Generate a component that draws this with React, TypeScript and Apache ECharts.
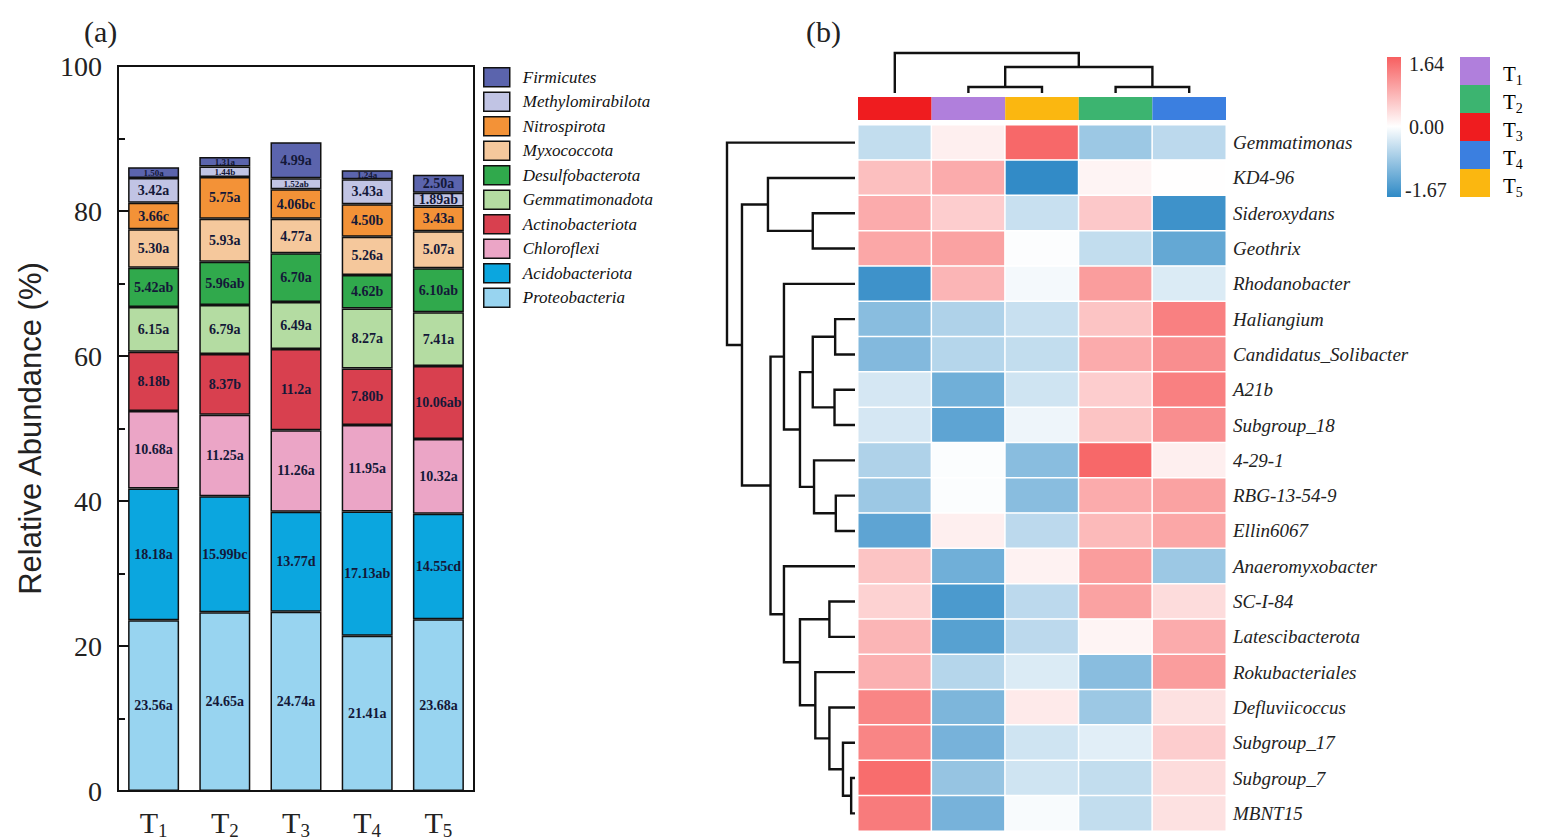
import React, { useEffect, useRef } from 'react';
import * as echarts from 'echarts';

const SERIF = "'Liberation Serif', 'Times New Roman', serif";
const SANS = "'Liberation Sans', Arial, sans-serif";

// ---------- (a) stacked bars ----------
const treatments = ['T1', 'T2', 'T3', 'T4', 'T5'];
const phyla = ['Proteobacteria', 'Acidobacteriota', 'Chloroflexi', 'Actinobacteriota', 'Gemmatimonadota', 'Desulfobacterota', 'Myxococcota', 'Nitrospirota', 'Methylomirabilota', 'Firmicutes'];
const phylaColors = ['#98d4f0', '#0ba6df', '#eba5c6', '#d8404f', '#b4dca2', '#30a94c', '#f5c89c', '#f39237', '#c1c4e4', '#5b64ad'];

const proteobacteria = [23.56, 24.65, 24.74, 21.41, 23.68];
const acidobacteriota = [18.18, 15.99, 13.77, 17.13, 14.55];
const chloroflexi = [10.68, 11.25, 11.26, 11.95, 10.32];
const actinobacteriota = [8.18, 8.37, 11.2, 7.80, 10.06];
const gemmatimonadota = [6.15, 6.79, 6.49, 8.27, 7.41];
const desulfobacterota = [5.42, 5.96, 6.70, 4.62, 6.10];
const myxococcota = [5.30, 5.93, 4.77, 5.26, 5.07];
const nitrospirota = [3.66, 5.75, 4.06, 4.50, 3.43];
const methylomirabilota = [3.42, 1.44, 1.52, 3.43, 1.89];
const firmicutes = [1.50, 1.31, 4.99, 1.24, 2.50];

const proteobacteriaLabels = ['23.56a', '24.65a', '24.74a', '21.41a', '23.68a'];
const acidobacteriotaLabels = ['18.18a', '15.99bc', '13.77d', '17.13ab', '14.55cd'];
const chloroflexiLabels = ['10.68a', '11.25a', '11.26a', '11.95a', '10.32a'];
const actinobacteriotaLabels = ['8.18b', '8.37b', '11.2a', '7.80b', '10.06ab'];
const gemmatimonadotaLabels = ['6.15a', '6.79a', '6.49a', '8.27a', '7.41a'];
const desulfobacterotaLabels = ['5.42ab', '5.96ab', '6.70a', '4.62b', '6.10ab'];
const myxococcotaLabels = ['5.30a', '5.93a', '4.77a', '5.26a', '5.07a'];
const nitrospirotaLabels = ['3.66c', '5.75a', '4.06bc', '4.50b', '3.43a'];
const methylomirabilotaLabels = ['3.42a', '1.44b', '1.52ab', '3.43a', '1.89ab'];
const firmicutesLabels = ['1.50a', '1.31a', '4.99a', '1.24a', '2.50a'];

const phylaValues = [proteobacteria, acidobacteriota, chloroflexi, actinobacteriota, gemmatimonadota, desulfobacterota, myxococcota, nitrospirota, methylomirabilota, firmicutes];
const phylaLabels = [proteobacteriaLabels, acidobacteriotaLabels, chloroflexiLabels, actinobacteriotaLabels, gemmatimonadotaLabels, desulfobacterotaLabels, myxococcotaLabels, nitrospirotaLabels, methylomirabilotaLabels, firmicutesLabels];

const yTicks = [0, 20, 40, 60, 80, 100];

// ---------- (b) heatmap ----------
const heatCols = ['T3', 'T1', 'T5', 'T2', 'T4'];
const heatRows = ['Gemmatimonas', 'KD4-96', 'Sideroxydans', 'Geothrix', 'Rhodanobacter', 'Haliangium', 'Candidatus_Solibacter', 'A21b', 'Subgroup_18', '4-29-1', 'RBG-13-54-9', 'Ellin6067', 'Anaeromyxobacter', 'SC-I-84', 'Latescibacterota', 'Rokubacteriales', 'Defluviicoccus', 'Subgroup_17', 'Subgroup_7', 'MBNT15'];
// columns: T3, T1, T5, T2, T4
const heatValues = [
  [-0.5, 0.15, 1.55, -0.8, -0.55],
  [0.65, 0.85, -1.65, 0.1, 0.0],
  [0.85, 0.5, -0.45, 0.55, -1.55],
  [0.9, 0.95, -0.04, -0.5, -1.25],
  [-1.55, 0.75, -0.1, 1.0, -0.3],
  [-0.95, -0.65, -0.45, 0.6, 1.3],
  [-1.0, -0.6, -0.5, 0.85, 1.15],
  [-0.35, -1.15, -0.4, 0.5, 1.3],
  [-0.35, -1.3, -0.15, 0.6, 1.15],
  [-0.65, -0.05, -0.95, 1.55, 0.15],
  [-0.8, -0.05, -0.95, 0.85, 0.95],
  [-1.3, 0.15, -0.55, 0.7, 0.9],
  [0.6, -1.15, 0.12, 1.0, -0.8],
  [0.45, -1.45, -0.55, 0.95, 0.35],
  [0.75, -1.35, -0.55, 0.1, 0.85],
  [0.8, -0.6, -0.3, -0.95, 1.0],
  [1.25, -1.05, 0.2, -0.8, 0.3],
  [1.25, -1.1, -0.4, -0.25, 0.5],
  [1.5, -0.85, -0.4, -0.5, 0.35],
  [1.35, -1.1, -0.07, -0.5, 0.3],
];
const scaleMin = -1.67;
const scaleMax = 1.64;
const scaleLabels = ['1.64', '0.00', '-1.67'];

const groupNames = ['T1', 'T2', 'T3', 'T4', 'T5'];
const groupColors = ['#b07fdc', '#3cb470', '#ef1c1f', '#3b7fe0', '#fbb710'];

// merges: [childA, childB, height]; leaves 0..n-1, merge k -> n+k
const rowMerges = [
  [2, 3, 0.33],
  [1, 20, 0.68],
  [5, 6, 0.155],
  [7, 8, 0.16],
  [22, 23, 0.33],
  [10, 11, 0.15],
  [9, 25, 0.32],
  [24, 26, 0.43],
  [4, 27, 0.555],
  [13, 14, 0.2],
  [18, 19, 0.03],
  [17, 30, 0.094],
  [16, 31, 0.2],
  [15, 32, 0.31],
  [29, 33, 0.43],
  [12, 34, 0.555],
  [28, 35, 0.66],
  [21, 36, 0.883],
  [0, 37, 1.0],
];
const colMerges = [
  [1, 2, 0.15],
  [3, 4, 0.15],
  [5, 6, 0.65],
  [0, 7, 1.0],
];

function dendroSegments(nLeaves: number, merges: number[][]) {
  const pos: number[] = [];
  const h: number[] = [];
  for (let i = 0; i < nLeaves; i++) { pos.push(i); h.push(0); }
  const segs: any[] = [];
  merges.forEach(([a, b, hh]) => {
    segs.push({ pa: pos[a], ha: h[a], pb: pos[b], hb: h[b], hn: hh });
    pos.push((pos[a] + pos[b]) / 2);
    h.push(hh);
  });
  return segs;
}

const RED = '#f75f60';
const BLUE = '#2f8ac6';

export default function App() {
  const ref = useRef<HTMLDivElement>(null);
  useEffect(() => {
    if (!ref.current) return;
    const chart = echarts.init(ref.current, null, { renderer: 'svg' });

    const barSeries = phyla.map((name, si) => ({
      name,
      type: 'bar',
      stack: 'total',
      xAxisIndex: 0,
      yAxisIndex: 0,
      barWidth: 51,
      itemStyle: { color: phylaColors[si], borderColor: '#111', borderWidth: 1.5 },
      label: {
        show: true,
        position: 'inside',
        fontFamily: SERIF,
        fontWeight: 'bold',
        fontSize: 14,
        color: '#141838',
        formatter: (p: any) => phylaLabels[si][p.dataIndex],
      },
      emphasis: { disabled: true },
      data: phylaValues[si].map((v) => (v < 1.6 ? { value: v, label: { fontSize: 9 } } : { value: v })),
    }));

    const heatData: any[] = [];
    heatValues.forEach((row, r) => row.forEach((v, c) => heatData.push([c, r, v])));

    const rowSegs = dendroSegments(heatRows.length, rowMerges).map((s) => [s.ha, s.pa, s.hn, s.pa, s.hn, s.pb, s.hb, s.pb]);
    const colSegs = dendroSegments(heatCols.length, colMerges).map((s) => [s.pa, s.ha, s.pa, s.hn, s.pb, s.hn, s.pb, s.hb]);

    const renderDendro = (params: any, api: any) => {
      const pts: number[][] = [];
      for (let i = 0; i < 4; i++) pts.push(api.coord([api.value(2 * i), api.value(2 * i + 1)]));
      return { type: 'polyline', shape: { points: pts }, style: { stroke: '#111', lineWidth: 2.4, fill: null } };
    };

    const subRich = (size: number, sub: number) => ({
      t: { fontFamily: SERIF, fontSize: size, color: '#222', lineHeight: size + 6, verticalAlign: 'bottom' },
      s: { fontFamily: SERIF, fontSize: sub, color: '#222', verticalAlign: 'bottom', padding: [0, 0, -3, 0] },
    });

    const graphics: any[] = [
      { type: 'text', left: 84, top: 16, style: { text: '(a)', font: `30px ${SERIF}`, fill: '#222' } },
      { type: 'text', left: 806, top: 16, style: { text: '(b)', font: `30px ${SERIF}`, fill: '#222' } },
      {
        type: 'rect',
        shape: { x: 1387, y: 57, width: 14, height: 140 },
        style: {
          fill: new echarts.graphic.LinearGradient(0, 0, 0, 1, [
            { offset: 0, color: RED },
            { offset: scaleMax / (scaleMax - scaleMin), color: '#ffffff' },
            { offset: 1, color: BLUE },
          ]),
        },
      },
      { type: 'text', x: 1409, y: 54, style: { text: scaleLabels[0], font: `20px ${SERIF}`, fill: '#222', verticalAlign: 'top' } },
      { type: 'text', x: 1409, y: 127, style: { text: scaleLabels[1], font: `20px ${SERIF}`, fill: '#222', verticalAlign: 'middle' } },
      { type: 'text', x: 1405, y: 200, style: { text: scaleLabels[2], font: `20px ${SERIF}`, fill: '#222', verticalAlign: 'bottom' } },
    ];
    groupNames.forEach((g, i) => {
      graphics.push({ type: 'rect', shape: { x: 1460, y: 57 + i * 28, width: 30, height: 28 }, style: { fill: groupColors[i] } });
      graphics.push({
        type: 'text',
        x: 1503,
        y: 71 + i * 28,
        style: { text: `{t|T}{s|${g.substring(1)}}`, rich: subRich(21, 14), verticalAlign: 'middle' },
      });
    });

    const option: any = {
      animation: false,
      backgroundColor: '#ffffff',
      grid: [
        { left: 118, top: 66, width: 356, height: 726, show: true, borderColor: '#111', borderWidth: 2, backgroundColor: 'transparent' },
        { left: 858, top: 125, width: 368, height: 706 },
        { left: 858, top: 97, width: 368, height: 23 },
        { left: 858, top: 53, width: 368, height: 40 },
        { left: 727, top: 125, width: 128, height: 706 },
      ],
      legend: {
        data: phyla.slice().reverse(),
        orient: 'vertical',
        left: 483,
        top: 67,
        padding: 0,
        itemWidth: 26,
        itemHeight: 19,
        itemGap: 4,
        icon: 'rect',
        selectedMode: false,
        itemStyle: { borderColor: '#111', borderWidth: 1.5 },
        textStyle: { fontFamily: SERIF, fontStyle: 'italic', fontSize: 17, lineHeight: 19, color: '#111', padding: [0, 0, 0, 8] },
      },
      visualMap: {
        type: 'continuous',
        show: false,
        min: scaleMin,
        max: scaleMax,
        seriesIndex: 10,
        dimension: 2,
        inRange: { color: [BLUE, '#ffffff', RED] },
      },
      xAxis: [
        {
          gridIndex: 0,
          type: 'category',
          data: treatments,
          axisLine: { lineStyle: { color: '#111', width: 2 } },
          axisTick: { show: false },
          axisLabel: {
            margin: 10,
            formatter: (v: string) => `{t|T}{s|${v.substring(1)}}`,
            rich: subRich(30, 19),
          },
        },
        { gridIndex: 1, type: 'category', data: heatCols, show: false },
        { gridIndex: 2, type: 'category', data: heatCols, show: false },
        { gridIndex: 3, type: 'value', min: -0.5, max: 4.5, show: false },
        { gridIndex: 4, type: 'value', min: 0, max: 1, inverse: true, show: false },
      ],
      yAxis: [
        {
          gridIndex: 0,
          type: 'value',
          min: 0,
          max: 100,
          interval: 20,
          name: 'Relative Abundance (%)',
          nameLocation: 'middle',
          nameGap: 72,
          nameTextStyle: { fontFamily: SANS, fontSize: 31, color: '#222' },
          axisLine: { show: true, lineStyle: { color: '#111', width: 2 } },
          axisTick: { show: true, inside: true, length: 13, lineStyle: { color: '#111', width: 2 } },
          minorTick: { show: true, splitNumber: 2, length: 7, lineStyle: { color: '#111', width: 2 } },
          splitLine: { show: false },
          axisLabel: {
            margin: 16,
            fontFamily: SERIF,
            fontSize: 28,
            color: '#222',
            formatter: (v: number) => (yTicks.indexOf(v) >= 0 ? String(v) : ''),
          },
        },
        {
          gridIndex: 1,
          type: 'category',
          data: heatRows,
          inverse: true,
          position: 'right',
          axisLine: { show: false },
          axisTick: { show: false },
          axisLabel: { margin: 7, fontFamily: SERIF, fontStyle: 'italic', fontSize: 19, color: '#222' },
        },
        { gridIndex: 2, type: 'value', min: 0, max: 1, show: false },
        { gridIndex: 3, type: 'value', min: 0, max: 1, show: false },
        { gridIndex: 4, type: 'value', min: -0.5, max: heatRows.length - 0.5, inverse: true, show: false },
      ],
      graphic: graphics,
      series: [
        ...barSeries,
        {
          type: 'heatmap',
          xAxisIndex: 1,
          yAxisIndex: 1,
          data: heatData,
          itemStyle: { borderColor: '#ffffff', borderWidth: 1.5 },
          emphasis: { disabled: true },
          progressive: 0,
        },
        {
          type: 'bar',
          xAxisIndex: 2,
          yAxisIndex: 2,
          barWidth: '100%',
          silent: true,
          data: heatCols.map((c) => ({ value: 1, itemStyle: { color: groupColors[groupNames.indexOf(c)] } })),
        },
        {
          type: 'custom',
          xAxisIndex: 3,
          yAxisIndex: 3,
          clip: false,
          silent: true,
          renderItem: renderDendro,
          data: colSegs,
        },
        {
          type: 'custom',
          xAxisIndex: 4,
          yAxisIndex: 4,
          clip: false,
          silent: true,
          renderItem: renderDendro,
          data: rowSegs,
        },
      ],
    };
    chart.setOption(option);
    return () => chart.dispose();
  }, []);
  return <div ref={ref} style={{ position: 'fixed', left: 0, top: 0, width: 1543, height: 840, background: '#fff' }} />;
}
